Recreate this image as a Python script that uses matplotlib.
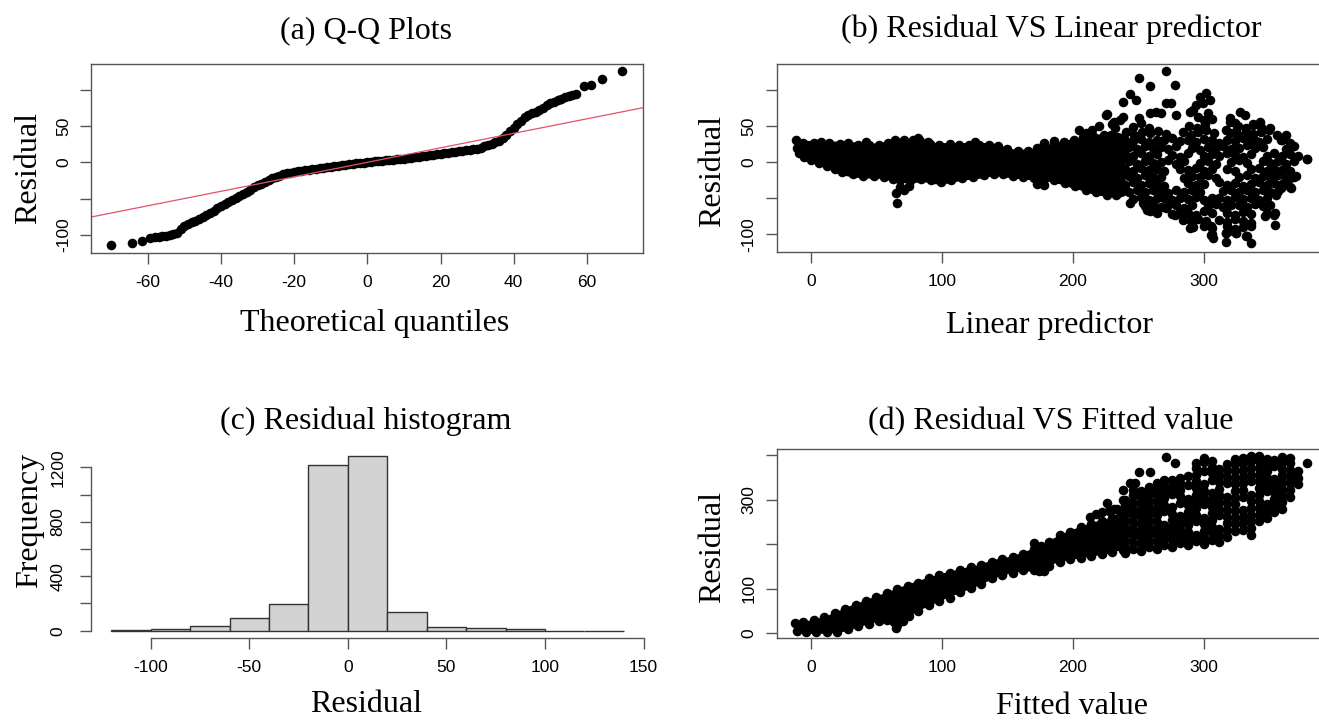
import matplotlib
matplotlib.use("Agg")
import matplotlib.pyplot as plt

# ---------------- data ----------------
# (a) Q-Q plot
qq_theo = [-70.1, -64.4, -61.5, -59.4,
           -58, -57, -56, -55, -54, -53, -52, -51, -50, -49, -48, -47, -46, -45, -44, -43,
           -42, -41, -40, -39, -38, -37, -36, -35, -34, -33, -32, -31, -30, -29, -28, -27,
           -26, -25, -24, -23, -22, -21, -20, -19, -18, -17, -16, -15, -14, -13, -12, -11,
           -10, -9, -8, -7, -6, -5, -4, -3, -2, -1, 0, 1, 2, 3, 4, 5, 6, 7, 8, 9,
           10, 11, 12, 13, 14, 15, 16, 17, 18, 19, 20, 21, 22, 23, 24, 25, 26, 27, 28, 29,
           30, 31, 32, 33, 34, 35, 36, 37, 38, 39, 40, 41, 42, 43, 44, 45, 46, 47, 48, 49,
           50, 51, 52, 53, 54, 55, 56, 57,
           59.2, 61.1, 64.1, 69.7]
qq_resid = [-114.5, -110.9, -108.6, -104.8,
            -103.5, -102.5, -101.5, -101, -100.3, -99.3, -97.3, -92.5, -87.5, -85, -82.8, -80.5, -77.8, -75.2, -72.6, -69.8,
            -66.6, -63.6, -60.4, -57.4, -54.6, -51.8, -49, -46.2, -43.4, -40.4, -37.6, -34.6, -32, -29.4, -26.8, -24.4,
            -22, -20, -18.4, -16.8, -15.4, -14.2, -13, -12.2, -11.5, -10.8, -10.2, -9.6, -9, -8.4, -7.8, -7,
            -6.3, -5.6, -5, -4.2, -3.5, -2.9, -2.3, -1.6, -1, -0.5, 0, 0.6, 1.2, 1.7, 2.2, 2.8, 3.3, 3.7, 4.2, 4.7,
            5.2, 5.8, 6.5, 7.2, 8, 8.6, 9.2, 9.9, 10.5, 11.2, 11.8, 12.4, 13, 13.6, 14.3, 15, 15.8, 16.5, 17.2, 18,
            19, 20.3, 22, 23.5, 25.5, 27.5, 30, 33, 37.5, 42.5, 48, 53, 57.5, 62, 65.5, 67.5, 69.2, 72, 75.5, 79,
            81.5, 83.5, 85.5, 87.8, 89.7, 91.5, 92.8, 93.8,
            105.2, 106.2, 114.5, 126.3]
qq_line_intercept = 0.0
qq_line_slope = 1.0

# (b) residual vs linear predictor: dense core (band limits) + separate points
b_core_x = [-12, -8, -4, 0, 5, 10, 15, 20, 25, 30, 35, 40, 45, 50, 55, 60, 65, 70, 75, 80, 85, 90,
            95, 100, 105, 110, 115, 120, 125, 130, 135, 140, 145, 150, 155, 160, 165, 170, 175, 180,
            185, 190, 195, 200, 205, 210, 215, 220, 225, 230, 235, 240]
b_core_lo = [16, 9, 4, 0, -3, -7, -11, -15, -18, -20, -21, -22, -22, -22, -23, -25, -27, -28, -29, -28,
             -27, -28, -30, -30, -29, -27, -25, -24, -23, -22, -20, -19, -19, -21, -22, -23, -24, -25,
             -26, -26, -28, -30, -33, -36, -38, -41, -44, -46, -47, -48, -49, -46]
b_core_hi = [33, 31, 30, 30, 30, 30, 29, 29, 28, 28, 28, 27, 27, 26, 28, 30, 32, 31, 32, 32, 30, 28,
             27, 27, 27, 27, 27, 27, 26, 27, 27, 26, 23, 20, 18, 18, 18, 19, 21, 24, 27, 29, 31, 32,
             34, 36, 37, 39, 40, 40, 41, 38]
b_points = [
    # core edges
    (-11.6, 31), (-6, 27), (2, 27), (8, 28), (14, 26), (22, 25), (28, 26), (36, 24), (44, 24), (52, 23),
    (59, 27), (64, 30), (71, 29), (78, 30), (83, 29), (91, 25), (98, 24), (106, 25), (113, 24), (121, 24),
    (128, 23), (136, 24), (143, 22), (150, 18), (158, 16), (166, 16), (173, 19), (178, 25), (186, 26),
    (193, 28), (201, 30), (208, 34), (216, 35), (224, 38), (231, 38),
    (-11, 20), (-9, 12), (-5, 7), (0, 3), (6, -1), (12, -5), (18, -10), (24, -14), (32, -17), (40, -19),
    (48, -19), (56, -20), (63, -23), (68, -25), (76, -26), (84, -24), (92, -25), (99, -27), (107, -25),
    (115, -22), (124, -20), (132, -18), (140, -16), (147, -17), (154, -19), (162, -20), (170, -22),
    (178, -23), (186, -25), (194, -29), (202, -33), (210, -38), (218, -42), (226, -45), (233, -46),
    (64.8, -42.8), (66, -56.6), (71, -38), (75, -33), (68, -35), (173, -30), (178, -31), (82, 33),
    (89, 28), (71, 31), (42, 28), (125, 28), (178, 26), (186, 29),
    (215, 44.5), (225.7, 65.2), (205, 44), (220, 50), (210, 40), (230, 52), (232, 47), (236, 58), (229, 38),
    # spread-out part
    (246, 49), (252, 54), (258, 47), (289, 50), (295, 47), (301, 52), (320, 56), (326, 50), (332, 47),
    (338, 53), (344, 49),
    (241, 41), (247, 38), (253, 42), (259, 40), (265, 43), (271, 39), (284, 42), (290, 38), (296, 41),
    (302, 44), (308, 40), (320, 40), (326, 37), (332, 42), (338, 39), (344, 41), (350, 45), (356, 38),
    (240, 31), (246, 29), (252, 32), (258, 28), (264, 31), (270, 30), (276, 33), (282, 29), (288, 31),
    (294, 28), (300, 32), (306, 30), (312, 27), (318, 31), (324, 29), (330, 33), (336, 30), (342, 28),
    (348, 32), (360, 31), (366, 27),
    (243, 21), (249, 18), (255, 22), (261, 19), (267, 21), (273, 18), (279, 22), (291, 20), (297, 17),
    (303, 21), (309, 19), (315, 22), (321, 18), (327, 20), (333, 23), (339, 19), (345, 21), (363, 18),
    (369, 22),
    (240, 11), (246, 9), (252, 12), (258, 8), (264, 11), (276, 10), (282, 7), (288, 12), (300, 9),
    (306, 11), (312, 8), (318, 12), (324, 10), (330, 7), (336, 11), (348, 9), (354, 12), (360, 8),
    (366, 11), (372, 9),
    (243, 1), (249, -2), (255, 2), (261, -1), (267, 0), (273, 3), (279, -2), (285, 1), (297, -1),
    (303, 2), (309, -2), (321, 0), (327, 3), (333, -1), (345, 2), (351, -1), (357, 1), (363, -2),
    (369, 2), (379, 4),
    (240, -9), (246, -12), (252, -8), (258, -11), (264, -10), (270, -13), (282, -9), (288, -11),
    (294, -8), (300, -12), (306, -10), (318, -9), (324, -12), (336, -10), (342, -8), (348, -12),
    (354, -9), (360, -11), (366, -13),
    (243, -19), (249, -22), (255, -18), (261, -21), (267, -20), (285, -22), (291, -19), (297, -21),
    (303, -18), (309, -22), (327, -20), (333, -18), (339, -22), (345, -19), (351, -21), (357, -18),
    (363, -22), (369, -20),
    (240, -31), (246, -28), (252, -32), (258, -29), (264, -30), (270, -33), (288, -29), (294, -32),
    (300, -30), (312, -28), (318, -31), (324, -29), (330, -33), (336, -30), (342, -28), (348, -32),
    (354, -29), (360, -30), (366, -34),
    (243, -41), (249, -38), (255, -42), (261, -39), (267, -40), (273, -43), (279, -39), (285, -41),
    (291, -38), (297, -42), (315, -40), (321, -38), (327, -42), (333, -39), (339, -41), (345, -38),
    (351, -42), (357, -40),
    (246, -51), (252, -48), (258, -52), (264, -49), (270, -50), (276, -53), (282, -49), (288, -51),
    (294, -48), (300, -52), (306, -50), (312, -49), (318, -52), (324, -48), (330, -51), (336, -49),
    (342, -52), (348, -50),
    (255, -61), (261, -58), (267, -62), (273, -59), (279, -60), (285, -63), (291, -59), (303, -61),
    (309, -58), (315, -62), (321, -60), (327, -59), (333, -62), (339, -58), (345, -61), (351, -60),
    (264, -70), (276, -72), (282, -69), (288, -71), (294, -73), (300, -68), (306, -71), (318, -70),
    (324, -73), (330, -69), (336, -72), (348, -70), (354, -73),
    (284, -80), (290, -82), (296, -79), (302, -81), (312, -80), (318, -83), (324, -79), (330, -81),
    (336, -84),
    (292, -90), (300, -88), (306, -91), (318, -89), (324, -92), (330, -90), (336, -88),
    (306, -100), (317, -98), (325, -98), (333, -102),
    # isolated points
    (271, 126.4), (250.4, 115.8), (258.8, 105.7), (277.9, 106.6), (243.5, 93.7), (248.1, 85.9),
    (238.4, 83.6), (271.5, 82.2), (275.3, 82.2), (226.2, 66.6), (238.4, 62.9), (231.3, 56.1),
    (250.7, 60.6), (258.8, 67.5), (263.9, 69.8), (267.7, 67.5), (279.2, 65.2), (297, 90.5),
    (302, 95.1), (304.6, 85.9), (299.5, 81.3), (294.4, 79), (303.3, 67.5), (289.3, 69.8),
    (291.9, 72.1), (296, 62), (300, 58), (306, 60), (327.5, 69.8), (331.3, 65.2), (319.9, 60.6),
    (323.7, 53.7), (342.8, 56.1), (337.7, 51.4), (350.4, 46.8), (363.1, 37.7), (359.3, 30.8),
    (317.3, 44.5), (325, 42.3), (330, 35.4), (335.1, 33.1), (340.2, 28.5), (378.9, 4.1),
    (370.8, -19.8), (365.7, -22.1), (363.1, -29), (367, -35.9), (359.3, -35.9), (355.5, -45.1),
    (354.2, -70.4), (354.2, -86.5), (346.6, -75), (336.4, -111.8), (332.6, -102.6), (325, -98),
    (322.4, -95.7), (316.8, -110.9), (317.3, -98), (305.9, -100.3), (307.2, -104.9), (289.3, -91.1),
    (293.1, -78.7), (284.2, -72.7), (277.9, -72.7), (271.5, -63.5), (262.6, -68.1), (258.8, -68.1),
    (256.3, -65.8), (243.5, -56.6), (253.7, -56.6), (305.9, -87.9),
]

# (c) residual histogram
hist_left = [-120, -100, -80, -60, -40, -20, 0, 20, 40, 60, 80, 100, 120]
hist_counts = [7, 15, 34, 91, 197, 1220, 1283, 138, 30, 17, 10, 1, 1]

# (d) residual vs fitted value: dense core (band limits) + separate points
d_core_x = [-12, -6, 0, 6, 12, 18, 24, 30, 36, 42, 48, 54, 60, 66, 72, 78, 84, 90, 96, 102, 108,
            114, 120, 126, 132, 138, 144, 150, 156, 162, 168, 174, 180, 186, 192, 198, 204, 210,
            216, 222, 228, 234, 240]
d_core_lo = [4, 1, 0, 0, 0, 2, 4, 9, 15, 20, 25, 29, 32, 35, 39, 45, 54, 63, 70, 78, 85, 92, 99,
             106, 114, 122, 129, 134, 138, 140, 140, 141, 149, 158, 163, 166, 169, 172, 175, 177,
             180, 186, 190]
d_core_hi = [25, 28, 30, 35, 40, 48, 55, 63, 69, 76, 83, 89, 96, 102, 109, 115, 121, 127, 132, 137,
             141, 146, 150, 153, 159, 165, 169, 172, 177, 183, 190, 198, 207, 216, 225, 232, 239,
             245, 251, 256, 260, 264, 268]
d_points = [
    # core edges
    (-12, 23), (-6, 26), (2, 29), (10, 36), (18, 45), (26, 54), (34, 64), (42, 73), (50, 82), (58, 91),
    (66, 99), (74, 106), (82, 114), (90, 124), (98, 130), (106, 136), (114, 142), (122, 148), (130, 154),
    (138, 161), (146, 167), (154, 172), (162, 179), (170, 189), (176, 196), (182, 205), (190, 220),
    (198, 228), (206, 238), (214, 246), (222, 253), (230, 259), (236, 263),
    (-11, 6), (-4, 2), (4, 2), (12, 2), (20, 4), (28, 9), (36, 16), (44, 22), (52, 28), (58, 31),
    (66, 36), (74, 41), (82, 50), (90, 64), (98, 72), (106, 80), (114, 93), (122, 101), (130, 111),
    (138, 124), (146, 131), (154, 136), (162, 142), (170, 142), (176, 143), (182, 152), (190, 161),
    (198, 166), (206, 170), (214, 174), (222, 178), (230, 182), (238, 188),
    (64.8, 11), (66, 18), (63.5, 26), (70, 28), (75, 38), (174, 139), (178, 140), (170, 202),
    (213, 262), (218, 268), (222, 272), (228, 275), (234, 280), (240, 290),
    # spread-out part, column by column
    (240, 180), (240, 195), (240, 210), (240, 225), (240, 240), (240, 255), (240, 270), (240, 285), (240, 300),
    (246, 190), (246, 205), (246, 220), (246, 235), (246, 250), (246, 265), (246, 280), (246, 295), (246, 310), (246, 322),
    (252, 186), (252, 201), (252, 216), (252, 231), (252, 246), (252, 261), (252, 276), (252, 291), (252, 306), (252, 321),
    (258, 195), (258, 210), (258, 225), (258, 240), (258, 255), (258, 270), (258, 285), (258, 300), (258, 315), (258, 330),
    (264, 190), (264, 205), (264, 220), (264, 235), (264, 250), (264, 265), (264, 280), (264, 295), (264, 310), (264, 325), (264, 337),
    (270, 199), (270, 214), (270, 229), (270, 244), (270, 274), (270, 289), (270, 304), (270, 319), (270, 334), (270, 345),
    (276, 194), (276, 209), (276, 224), (276, 239), (276, 254), (276, 269), (276, 284), (276, 314), (276, 329), (276, 344),
    (282, 203), (282, 218), (282, 233), (282, 248), (282, 263), (282, 293), (282, 308), (282, 323), (282, 338), (282, 350),
    (288, 198), (288, 213), (288, 228), (288, 243), (288, 258), (288, 273), (288, 288), (288, 303), (288, 333), (288, 353),
    (294, 207), (294, 222), (294, 252), (294, 267), (294, 282), (294, 297), (294, 312), (294, 327), (294, 342), (294, 357), (294, 372), (294, 384),
    (300, 200), (300, 215), (300, 230), (300, 245), (300, 260), (300, 290), (300, 305), (300, 320), (300, 335), (300, 365), (300, 385), (300, 395),
    (306, 210), (306, 225), (306, 240), (306, 255), (306, 270), (306, 285), (306, 300), (306, 315), (306, 345), (306, 360), (306, 375), (306, 388),
    (312, 205), (312, 220), (312, 235), (312, 265), (312, 280), (312, 295), (312, 310), (312, 325), (312, 340), (312, 355), (312, 370),
    (318, 217), (318, 232), (318, 247), (318, 262), (318, 277), (318, 292), (318, 307), (318, 337), (318, 352), (318, 367), (318, 380),
    (324, 230), (324, 245), (324, 260), (324, 275), (324, 290), (324, 305), (324, 320), (324, 335), (324, 350), (324, 365), (324, 380), (324, 393),
    (330, 232), (330, 247), (330, 262), (330, 277), (330, 307), (330, 322), (330, 337), (330, 352), (330, 367), (330, 382), (330, 395),
    (336, 222), (336, 237), (336, 252), (336, 267), (336, 282), (336, 297), (336, 312), (336, 342), (336, 357), (336, 372), (336, 387), (336, 398),
    (342, 252), (342, 267), (342, 282), (342, 297), (342, 312), (342, 327), (342, 342), (342, 357), (342, 372), (342, 387), (342, 398),
    (348, 260), (348, 275), (348, 290), (348, 320), (348, 335), (348, 350), (348, 365), (348, 380), (348, 393),
    (354, 272), (354, 287), (354, 302), (354, 317), (354, 332), (354, 347), (354, 377), (354, 390),
    (360, 280), (360, 295), (360, 310), (360, 325), (360, 340), (360, 355), (360, 370), (360, 385), (360, 397),
    (366, 307), (366, 322), (366, 337), (366, 352), (366, 367), (366, 382), (366, 394),
    (372, 335), (372, 350), (372, 365),
    # isolated points
    (271.5, 397.2), (277.9, 383.7), (250.4, 363.5), (258.8, 363.5), (243.5, 338.7), (247.4, 337.2),
    (238.4, 322.3), (226.2, 292.3), (238.4, 299.8), (231.3, 278.8), (378.9, 383.7), (370.8, 352.2),
    (367, 337.2),
]

# ---------------- figure ----------------
plt.rcParams["font.family"] = ["Liberation Sans", "DejaVu Sans"]
plt.rcParams["axes.unicode_minus"] = False
SERIF = ["Liberation Serif", "DejaVu Serif"]
EDGE = "#555555"
DOT = 6.9
W, H = 1319, 720

fig = plt.figure(figsize=(13.19, 7.2), dpi=100)


def add_axes_px(left, top, right, bottom):
    return fig.add_axes([left / W, 1 - bottom / H, (right - left) / W, (bottom - top) / H])


def style(ax, ypad=6.8):
    for s in ax.spines.values():
        s.set_color(EDGE)
        s.set_linewidth(1.0)
    ax.tick_params(direction="out", length=7.6, width=1.0, color=EDGE, labelsize=12.5)
    ax.tick_params(axis="x", pad=8.3)
    ax.tick_params(axis="y", pad=ypad)
    for lab in ax.get_yticklabels():
        lab.set_rotation(90)
        lab.set_va("center")
        lab.set_ha("right")


def label(x, y, s, rot=0):
    fig.text(x / W, 1 - y / H, s, ha="center", va="center", rotation=rot,
             family=SERIF, fontsize=23)


def scatter_xy(points):
    return [p[0] for p in points], [p[1] for p in points]


# (a)
ax = add_axes_px(91, 64, 643.3, 252.7)
ax.plot(qq_theo, qq_resid, "o", color="black", ms=DOT, mew=0)
ax.axline((0, qq_line_intercept), slope=qq_line_slope, color="#DF536B", lw=0.9)
ax.set_xlim(-75.5, 75.4)
ax.set_ylim(-124.7, 135.6)
ax.set_xticks([-60, -40, -20, 0, 20, 40, 60])
ax.set_yticks([-100, -50, 0, 50, 100], ["-100", "", "0", "50", ""])
style(ax)

# (b)
ax = add_axes_px(776.7, 64, 1329, 252.3)
ax.fill_between(b_core_x, b_core_lo, b_core_hi, color="black", lw=0)
bx, by = scatter_xy(b_points)
ax.plot(bx, by, "o", color="black", ms=DOT, mew=0)
ax.set_xlim(-26.2, 395.7)
ax.set_ylim(-124.7, 135.6)
ax.set_xticks([0, 100, 200, 300])
ax.set_yticks([-100, -50, 0, 50, 100], ["-100", "", "0", "50", ""])
style(ax)

# (c)
ax = add_axes_px(90.7, 448.8, 644.4, 637.7)
ax.bar(hist_left, hist_counts, width=20, align="edge", color="#D3D3D3",
       edgecolor="#333333", linewidth=1.0)
ax.set_xlim(-130.4, 150.4)
ax.set_ylim(-51.4, 1336.4)
ax.set_xticks([-100, -50, 0, 50, 100, 150])
ax.set_yticks([0, 200, 400, 600, 800, 1000, 1200], ["0", "", "400", "", "800", "", "1200"])
ax.spines["top"].set_visible(False)
ax.spines["right"].set_visible(False)
style(ax, ypad=10.4)
ax.spines["left"].set_bounds(0, 1200)
ax.spines["bottom"].set_bounds(-100, 150)

# (d)
ax = add_axes_px(776.7, 449, 1329, 637.7)
ax.fill_between(d_core_x, d_core_lo, d_core_hi, color="black", lw=0)
dx, dy = scatter_xy(d_points)
ax.plot(dx, dy, "o", color="black", ms=DOT, mew=0)
ax.set_xlim(-26.2, 395.7)
ax.set_ylim(-9.9, 414.4)
ax.set_xticks([0, 100, 200, 300])
ax.set_yticks([0, 100, 200, 300, 400], ["0", "100", "", "300", ""])
style(ax)

# titles and axis labels
label(366, 31, "(a) Q-Q Plots")
label(1051, 29, "(b) Residual VS Linear predictor")
label(366, 421, "(c) Residual histogram")
label(1051, 422, "(d) Residual VS Fitted value")
label(375, 323, "Theoretical quantiles")
label(1050, 325, "Linear predictor")
label(366, 705, "Residual")
label(1072, 706, "Fitted value")
label(29, 168, "Residual", rot=90)
label(713, 171, "Residual", rot=90)
label(30, 520, "Frequency", rot=90)
label(713, 547, "Residual", rot=90)

fig.savefig("out.png", dpi=100)
